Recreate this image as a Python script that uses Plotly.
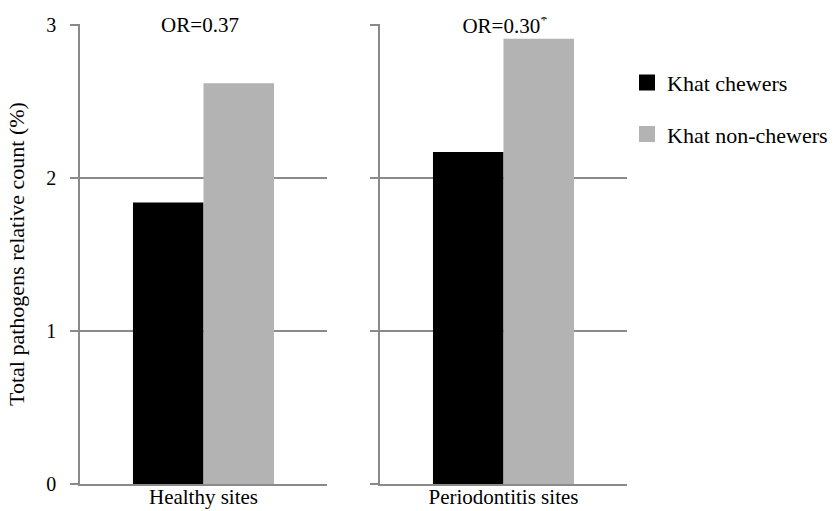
import plotly.graph_objects as go

categories = ["Healthy sites", "Periodontitis sites"]
series_names = ["Khat chewers", "Khat non-chewers"]
chewers = [1.84, 2.17]
non_chewers = [2.62, 2.91]
or_labels = ["OR=0.37", "OR=0.30<sup>*</sup>"]
y_ticks = [0, 1, 2, 3]

colors = ["#000000", "#b3b3b3"]
grid = "#8a8a8a"
font_family = "Liberation Serif"

fig = go.Figure()
axes = [("x", "y"), ("x2", "y2")]
for i, cat in enumerate(categories):
    xa, ya = axes[i]
    for s, vals in enumerate([chewers, non_chewers]):
        fig.add_trace(go.Bar(
            x=[cat], y=[vals[i]], name=series_names[s],
            marker=dict(color=colors[s], line=dict(width=0)),
            xaxis=xa, yaxis=ya, showlegend=False, legendgroup=series_names[s],
        ))

# legend entries with larger square symbols
for s, name in enumerate(series_names):
    fig.add_trace(go.Scatter(
        x=[None], y=[None], mode="markers", name=name,
        marker=dict(symbol="square", size=20, color=colors[s]),
        legendgroup=name, showlegend=True, xaxis="x", yaxis="y",
    ))

yr = [0, 3.0065]
common_y = dict(range=yr, tickvals=y_ticks, showgrid=True, gridcolor=grid, gridwidth=1.5,
                showline=True, linecolor=grid, linewidth=1.5, zeroline=False,
                ticks="outside", ticklen=8, tickcolor=grid, tickwidth=1.5, automargin=False,
                tickfont=dict(size=20, color="#000", family=font_family))
common_x = dict(type="category", range=[-0.5, 0.5], showline=True, linecolor=grid,
                linewidth=1.5, ticks="", showgrid=False, automargin=False,
                ticklabelstandoff=-7,
                tickfont=dict(size=21, color="#000", family=font_family))

fig.update_layout(
    width=840, height=511,
    margin=dict(l=80, r=213, t=24, b=27, autoexpand=False),
    paper_bgcolor="white", plot_bgcolor="white",
    font=dict(family=font_family, color="#000"),
    barmode="group", bargap=0.429,
    xaxis=dict(domain=[0, 247 / 547], **common_x),
    xaxis2=dict(domain=[300 / 547, 1], **common_x),
    yaxis=dict(anchor="x", ticklabelstandoff=10,
               title=dict(text="Total pathogens relative count (%)",
                          font=dict(size=22, family=font_family), standoff=16), **common_y),
    yaxis2=dict(anchor="x2", showticklabels=False, **common_y),
    legend=dict(x=1.0, xanchor="left", y=0.918, yanchor="top",
                font=dict(size=22, family=font_family), traceorder="grouped", tracegroupgap=20,
                itemsizing="trace", bgcolor="rgba(0,0,0,0)"),
    showlegend=True,
)

box_widths = [112, 132]
box_shifts = [-4, 1]
for i, cat in enumerate(categories):
    xa, ya = axes[i]
    fig.add_annotation(x=cat, y=3, xref=xa, yref=ya, text=or_labels[i], showarrow=False,
                       font=dict(size=21, color="#000", family=font_family), bgcolor="white",
                       borderpad=0, width=box_widths[i], height=16, xshift=box_shifts[i],
                       yanchor="middle", xanchor="center")

fig.write_html("out.html", config={"displayModeBar": False},
               post_script="document.body.style.margin='0px';")
